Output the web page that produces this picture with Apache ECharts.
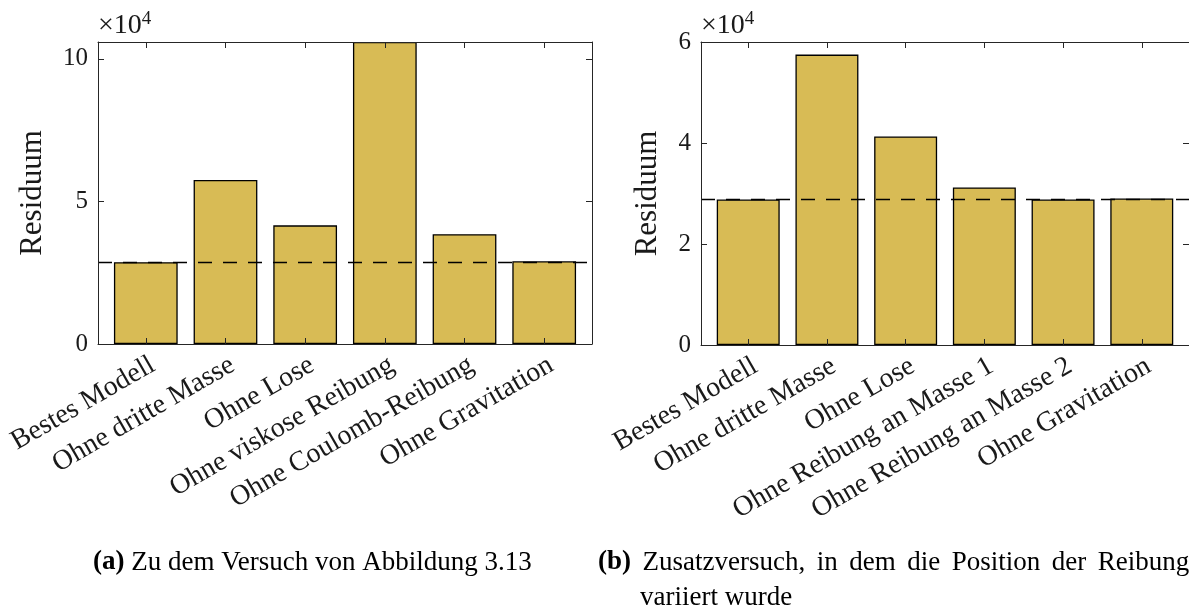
<!DOCTYPE html>
<html>
<head>
<meta charset="utf-8">
<script src="https://cdn.jsdelivr.net/npm/echarts@6/dist/echarts.min.js"></script>
<style>
  html, body { margin: 0; padding: 0; background: #ffffff; }
  #chart { width: 1189px; height: 612px; }
</style>
</head>
<body>
<div id="chart"></div>
<script>
// Residuen der Modellvarianten
const categoriesA = ['Bestes Modell', 'Ohne dritte Masse', 'Ohne Lose', 'Ohne viskose Reibung', 'Ohne Coulomb-Reibung', 'Ohne Gravitation'];
const residuumA = [2.87e4, 5.75e4, 4.16e4, 10.59e4, 3.85e4, 2.90e4];
const yTicksA = [0, 5e4, 10e4];

const categoriesB = ['Bestes Modell', 'Ohne dritte Masse', 'Ohne Lose', 'Ohne Reibung an Masse 1', 'Ohne Reibung an Masse 2', 'Ohne Gravitation'];
const residuumB = [2.88e4, 5.75e4, 4.13e4, 3.12e4, 2.88e4, 2.90e4];
const yTicksB = [0, 2e4, 4e4, 6e4];

const captionA = ['(a)', 'Zu dem Versuch von Abbildung 3.13'];
const captionB = ['(b)', 'Zusatzversuch, in dem die Position der Reibung', 'variiert wurde'];

const FONT = '"Liberation Serif", "Times New Roman", serif';
const AXIS_COLOR = '#262626';
const TEXT_COLOR = '#1a1a1a';
const BAR_COLOR = '#D8BB55';
const positions = categoriesA.map((_, i) => i + 1);

function xAxes(gridIndex, cats) {
  const line = { show: true, onZero: false, lineStyle: { color: AXIS_COLOR, width: 1 } };
  const tick = { show: true, inside: true, length: 6, customValues: positions, lineStyle: { color: AXIS_COLOR } };
  return [
    {
      type: 'value', gridIndex, position: 'bottom', min: 0.4, max: 6.6, z: 5,
      axisLine: line, splitLine: { show: false }, axisTick: tick,
      axisLabel: {
        show: true, customValues: positions, rotate: 30, margin: 7,
        align: 'right', verticalAlign: 'top',
        fontFamily: FONT, fontSize: 28, color: TEXT_COLOR,
        formatter: v => cats[Math.round(v) - 1]
      }
    },
    {
      type: 'value', gridIndex, position: 'top', min: 0.4, max: 6.6, z: 5,
      axisLine: line, splitLine: { show: false }, axisTick: tick,
      axisLabel: { show: false }
    }
  ];
}

function yAxes(gridIndex, maxVal, ticks, nameGap) {
  const line = { show: true, onZero: false, lineStyle: { color: AXIS_COLOR, width: 1 } };
  const tick = { show: true, inside: true, length: 6, customValues: ticks, lineStyle: { color: AXIS_COLOR } };
  return [
    {
      type: 'value', gridIndex, position: 'left', min: 0, max: maxVal, z: 5,
      axisLine: line, splitLine: { show: false }, axisTick: tick,
      axisLabel: {
        show: true, customValues: ticks, margin: 10,
        fontFamily: FONT, fontSize: 25, color: TEXT_COLOR,
        formatter: v => String(Math.round(v / 1e4))
      },
      name: 'Residuum', nameLocation: 'middle', nameGap: nameGap, nameRotate: 90,
      nameTextStyle: { fontFamily: FONT, fontSize: 31, color: TEXT_COLOR }
    },
    {
      type: 'value', gridIndex, position: 'right', min: 0, max: maxVal, z: 5,
      axisLine: line, splitLine: { show: false }, axisTick: tick,
      axisLabel: { show: false }
    }
  ];
}

function barSeries(axisOffset, values) {
  return {
    type: 'bar',
    xAxisIndex: axisOffset, yAxisIndex: axisOffset,
    data: values.map((v, i) => [i + 1, v]),
    barWidth: '80%',
    itemStyle: { color: BAR_COLOR, borderColor: '#000000', borderWidth: 1.3 },
    markLine: {
      silent: true, symbol: 'none', label: { show: false },
      lineStyle: { color: '#000000', width: 1.3, type: [14, 11] },
      data: [{ yAxis: values[0] }]
    },
    animation: false
  };
}

function expLabel(x) {
  return {
    type: 'text', left: x, top: 10,
    style: {
      text: '{m|×10}{e|4}',
      rich: {
        m: { fontFamily: FONT, fontSize: 28, fill: TEXT_COLOR },
        e: { fontFamily: FONT, fontSize: 19, fill: TEXT_COLOR, verticalAlign: 'top', padding: [0, 0, 12, 0] }
      }
    }
  };
}

// Subcaption line; a wider word space stretches a justified first line.
function caption(label, body, x, y, spaceWidth) {
  const words = body.split(' ');
  const rich = {
    b: { fontFamily: FONT, fontSize: 27, fontWeight: 'bold', fill: '#000000' },
    t: { fontFamily: FONT, fontSize: 27, fill: '#000000' }
  };
  let text = '{b|' + label + '}';
  if (spaceWidth) {
    rich.s = { fontFamily: FONT, fontSize: 27, width: spaceWidth };
    text += '{s| }' + words.map(w => '{t|' + w + '}').join('{s| }');
  } else {
    text += '{t| ' + body + '}';
  }
  return { type: 'text', left: x, top: y, style: { text, rich } };
}

const chart = echarts.init(document.getElementById('chart'), null, { renderer: 'canvas' });

chart.setOption({
  backgroundColor: '#ffffff',
  animation: false,
  grid: [
    { left: 98, top: 42, width: 494, height: 302 },
    { left: 701, top: 42, width: 492, height: 303 }
  ],
  xAxis: [...xAxes(0, categoriesA), ...xAxes(1, categoriesB)],
  yAxis: [
    ...yAxes(0, Math.max(...residuumA), yTicksA, 50),
    ...yAxes(1, yTicksB[yTicksB.length - 1], yTicksB, 38)
  ],
  series: [barSeries(0, residuumA), barSeries(2, residuumB)],
  graphic: [
    expLabel(98),
    expLabel(701),
    caption(captionA[0], captionA[1], 93, 549),
    caption(captionB[0], captionB[1], 598, 549, 11.5),
    {
      type: 'text', left: 640, top: 584,
      style: { text: captionB[2], font: '27px ' + FONT, fill: '#000000' }
    }
  ]
});
</script>
</body>
</html>
